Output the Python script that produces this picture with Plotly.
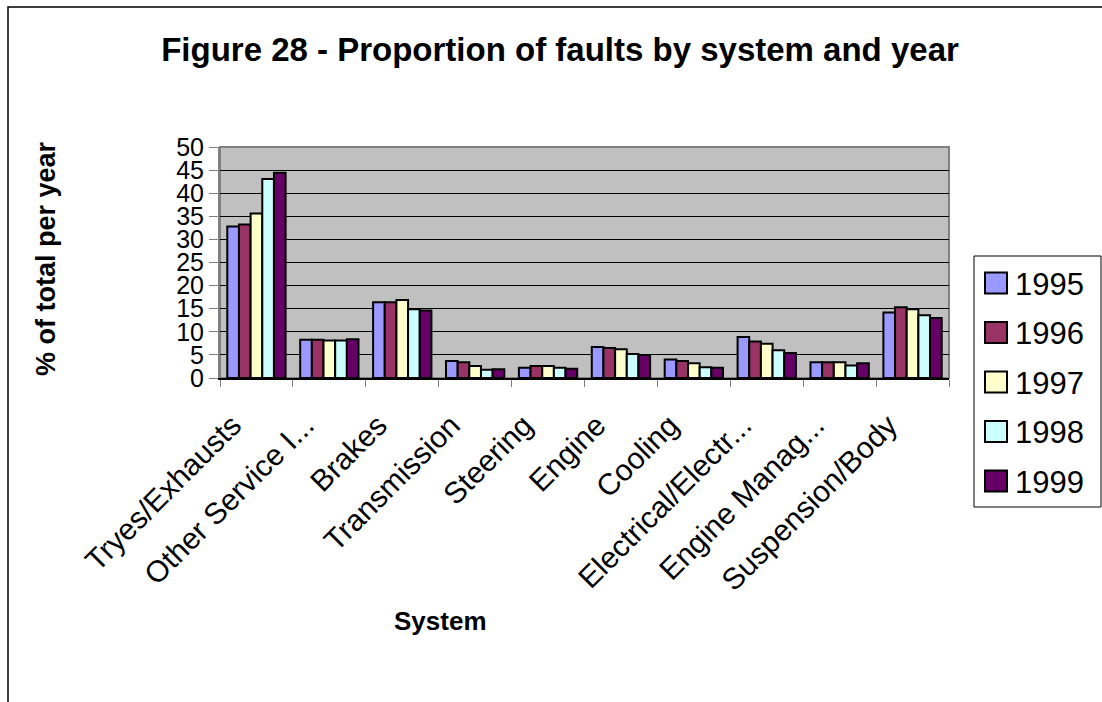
import plotly.graph_objects as go

# Fault categories (x axis) and share of faults per year (%)
systems = [
    "Tryes/Exhausts", "Other Service I...", "Brakes", "Transmission", "Steering",
    "Engine", "Cooling", "Electrical/Electr...", "Engine Manag...", "Suspension/Body",
]
years = ["1995", "1996", "1997", "1998", "1999"]

pct_1995 = [32.8, 8.3, 16.4, 3.7, 2.2, 6.7, 4.0, 8.9, 3.4, 14.2]
pct_1996 = [33.2, 8.3, 16.4, 3.4, 2.6, 6.5, 3.7, 7.9, 3.4, 15.3]
pct_1997 = [35.6, 8.1, 16.9, 2.6, 2.6, 6.2, 3.2, 7.4, 3.4, 14.9]
pct_1998 = [43.1, 8.1, 14.9, 1.8, 2.2, 5.2, 2.3, 6.0, 2.7, 13.6]
pct_1999 = [44.4, 8.4, 14.6, 1.9, 2.0, 5.0, 2.2, 5.4, 3.2, 13.0]

series = [pct_1995, pct_1996, pct_1997, pct_1998, pct_1999]
colors = ["#9999FF", "#993366", "#FFFFCC", "#CCFFFF", "#660066"]

FONT = "Arial, Liberation Sans, sans-serif"
W, H = 1102, 702
L, R, T, B = 220, 153, 147, 324  # plot area margins in pixels

fig = go.Figure()
for name, vals, col in zip(years, series, colors):
    fig.add_trace(go.Bar(
        x=systems, y=vals, name=name,
        marker=dict(color=col, line=dict(color="black", width=2)),
        showlegend=False,
    ))


def px_x(px):
    return (px - L) / (W - L - R)


def px_y(py):
    return (H - B - py) / (H - T - B)


shapes = []
annotations = []

# outer chart frame (left and top edges visible)
shapes.append(dict(type="rect", xref="paper", yref="paper",
                   x0=px_x(8), x1=px_x(1120), y0=px_y(7), y1=px_y(720),
                   line=dict(color="black", width=1.5), fillcolor="rgba(0,0,0,0)",
                   layer="below"))
# plot area border (grey)
shapes.append(dict(type="rect", xref="paper", yref="paper", x0=0, x1=1, y0=0, y1=1,
                   line=dict(color="#808080", width=2), fillcolor="rgba(0,0,0,0)",
                   layer="below"))

# legend box
lg_left, lg_right, lg_top, lg_bot = 974, 1101, 256, 507
shapes.append(dict(type="rect", xref="paper", yref="paper",
                   x0=px_x(lg_left), x1=px_x(lg_right), y0=px_y(lg_top), y1=px_y(lg_bot),
                   line=dict(color="black", width=1), fillcolor="white"))
for i, (name, col) in enumerate(zip(years, colors)):
    cy = 283 + i * 49.5
    shapes.append(dict(type="rect", xref="paper", yref="paper",
                       x0=px_x(985), x1=px_x(1007), y0=px_y(cy - 10.5), y1=px_y(cy + 10.5),
                       line=dict(color="black", width=2), fillcolor=col))
    annotations.append(dict(text=name, xref="paper", yref="paper",
                            x=px_x(1013), y=px_y(cy + 1), xanchor="left", yanchor="middle",
                            showarrow=False, font=dict(family=FONT, size=31, color="black")))

# axis titles
annotations.append(dict(text="<b>System</b>", xref="paper", yref="paper",
                        x=px_x(440), y=px_y(621), xanchor="center", yanchor="middle",
                        showarrow=False, font=dict(family=FONT, size=26, color="black")))
annotations.append(dict(text="<b>% of total per year</b>", xref="paper", yref="paper",
                        x=px_x(46), y=px_y(259), xanchor="center", yanchor="middle",
                        textangle=-90, showarrow=False,
                        font=dict(family=FONT, size=27, color="black")))

fig.update_layout(
    width=W, height=H,
    margin=dict(l=L, r=R, t=T, b=B),
    paper_bgcolor="white",
    plot_bgcolor="#C0C0C0",
    barmode="group",
    bargap=0.2,
    bargroupgap=0,
    title=dict(text="<b>Figure 28 - Proportion of faults by system and year</b>",
               x=px_x(560), xref="paper", xanchor="center", y=1 - 49 / H, yanchor="middle",
               font=dict(family=FONT, size=33, color="black")),
    font=dict(family=FONT, color="black"),
    shapes=shapes,
    annotations=annotations,
    xaxis=dict(
        type="category",
        tickangle=-45,
        tickson="boundaries",
        ticks="outside", ticklen=7, tickcolor="#808080", tickwidth=1,
        ticklabelstandoff=16, ticklabelshift=-24,
        showline=True, linecolor="black", linewidth=1.5,
        showgrid=False,
        tickfont=dict(family=FONT, size=30, color="black"),
    ),
    yaxis=dict(
        range=[0, 50], dtick=5, tick0=0,
        ticks="outside", ticklen=9, tickcolor="#808080", tickwidth=1,
        showline=True, linecolor="#808080", linewidth=2,
        showgrid=True, gridcolor="black", gridwidth=1,
        zeroline=False,
        tickfont=dict(family=FONT, size=25, color="black"),
    ),
)

fig.write_html("out.html")
